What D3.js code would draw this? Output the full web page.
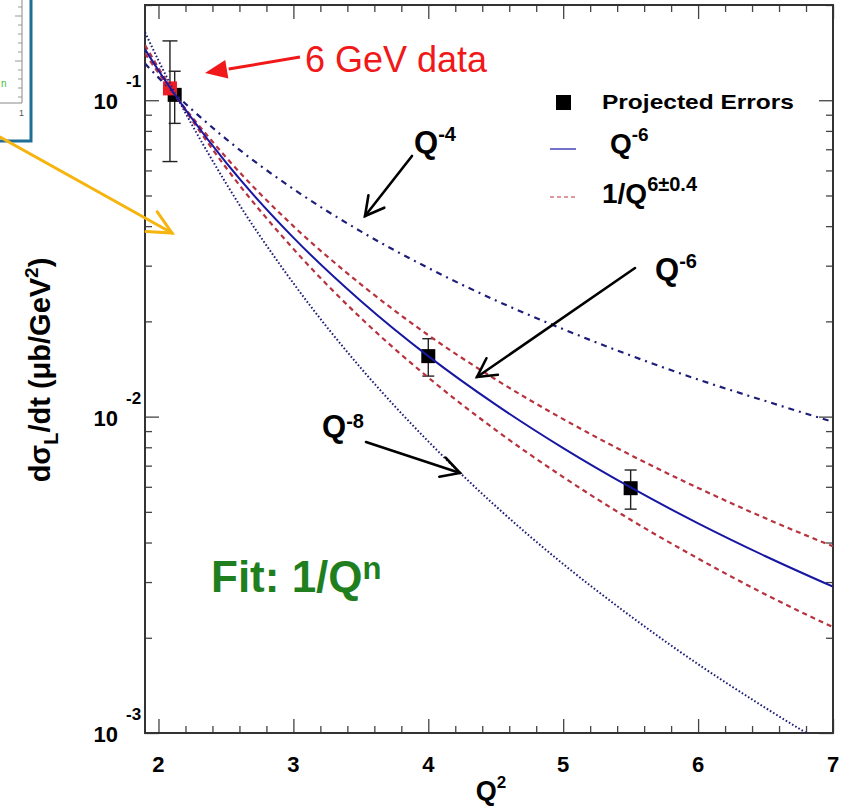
<!DOCTYPE html>
<html>
<head>
<meta charset="utf-8">
<script src="https://cdn.jsdelivr.net/npm/d3@7"></script>
<style>
  html, body { margin: 0; padding: 0; background: #fff; }
  svg { display: block; font-family: "Liberation Sans", Arial, Helvetica, sans-serif; }
</style>
</head>
<body>
<svg id="chart" width="850" height="808"></svg>
<script>
// Q² grid (GeV²) on which the scaling curves are tabulated
const q2Grid = [1.9, 2.0, 2.5, 3.0, 3.5, 4.0, 4.5, 5.0, 5.5, 6.0, 6.5, 7.0];
// dσL/dt (μb/GeV²) for the scaling curves
const curveQ4 = [0.1306, 0.1179, 0.0755, 0.0524, 0.0385, 0.0295, 0.0233, 0.0189, 0.0156, 0.0131, 0.0112, 0.00962];
const curveQ6 = [0.1449, 0.1242, 0.0636, 0.0368, 0.0232, 0.01553, 0.01091, 0.00795, 0.00597, 0.00460, 0.00362, 0.00290];
const curveQ8 = [0.1640, 0.1335, 0.0547, 0.0264, 0.01424, 0.00835, 0.00521, 0.00342, 0.00234, 0.00165, 0.00120, 0.00089];
const bandUpper = [0.1405, 0.1220, 0.0661, 0.0400, 0.0262, 0.0181, 0.0131, 0.00982, 0.00756, 0.00595, 0.00477, 0.00389];
const bandLower = [0.1494, 0.1265, 0.0613, 0.0339, 0.0205, 0.01329, 0.00907, 0.00644, 0.00472, 0.00356, 0.00274, 0.00216];

// projected measurements
const projQ2 = [2.12, 4.0, 5.5];
const projVal = [0.104, 0.01553, 0.00594];
const projErr = [0.0195, 0.0021, 0.00084];
// existing 6 GeV point
const dataQ2 = [2.085];
const dataVal = [0.109];
const dataErr = [0.045];

// axis ticks
const xMajor = [2, 3, 4, 5, 6, 7];
const xTickLabels = ["2", "3", "4", "5", "6", "7"];
const yMajor = [0.1, 0.01, 0.001];
const yExpLabels = ["-1", "-2", "-3"];

// ---------------------------------------------------------------
const svg = d3.select("#chart");
const frame = { left: 145, right: 833, top: 5, bottom: 733 };

const x = d3.scaleLinear().domain([1.9, 7.0]).range([frame.left, frame.right]);
const y = d3.scaleLog().domain([0.001, 0.2]).range([frame.bottom, frame.top]);

const BLUE = "#1717a2";
const NAVY = "#1e1e78";
const RED = "#b8323e";

// inset panel peeking in at the top-left corner
const inset = svg.append("g");
inset.append("rect").attr("x", -4).attr("y", -4).attr("width", 35).attr("height", 145)
  .attr("fill", "#fff").attr("stroke", "#1f6e98").attr("stroke-width", 3);
inset.append("line").attr("x1", 22).attr("x2", 22).attr("y1", 0).attr("y2", 103)
  .attr("stroke", "#888").attr("stroke-width", 1);
inset.append("line").attr("x1", 0).attr("x2", 22).attr("y1", 103).attr("y2", 103)
  .attr("stroke", "#888").attr("stroke-width", 1);
inset.selectAll("line.it").data(d3.range(7, 100, 9)).join("line").attr("class", "it")
  .attr("x1", (d, i) => i % 5 === 1 ? 15 : 18).attr("x2", 22).attr("y1", d => d).attr("y2", d => d)
  .attr("stroke", "#999").attr("stroke-width", 1);
inset.append("text").attr("x", 19).attr("y", 116).attr("font-size", 9).attr("fill", "#555").text("1");
inset.append("text").attr("x", 1).attr("y", 87).attr("font-size", 10).attr("fill", "#3cc43c").text("n");

// plot frame and ticks
const axes = svg.append("g");
const xMinor = d3.range(1.9, 7.001, 0.1).map(v => +v.toFixed(1))
  .filter(v => Math.abs(v * 5 - Math.round(v * 5)) < 1e-6 && !xMajor.includes(v));
const yMinor = [];
[0.001, 0.01, 0.1].forEach(dec => d3.range(2, 10).forEach(k => { const v = +(k * dec).toPrecision(3); if (v <= 0.2) yMinor.push(v); }));

function drawAxis(gen, tx, ty, ticks, size) {
  const g = axes.append("g").attr("transform", `translate(${tx},${ty})`)
    .call(gen.tickValues(ticks).tickSizeInner(-size).tickSizeOuter(0).tickFormat(""));
  g.select(".domain").remove();
  g.selectAll(".tick line").attr("stroke", "#444").attr("stroke-width", 1.3);
}
drawAxis(d3.axisBottom(x), 0, frame.bottom, xMajor, 14);
drawAxis(d3.axisBottom(x), 0, frame.bottom, xMinor, 7);
drawAxis(d3.axisTop(x), 0, frame.top, xMajor, 14);
drawAxis(d3.axisTop(x), 0, frame.top, xMinor, 7);
drawAxis(d3.axisLeft(y), frame.left, 0, yMajor, 14);
drawAxis(d3.axisLeft(y), frame.left, 0, yMinor, 7);
drawAxis(d3.axisRight(y), frame.right, 0, yMajor, 14);
drawAxis(d3.axisRight(y), frame.right, 0, yMinor, 7);

axes.append("rect").attr("x", frame.left).attr("y", frame.top)
  .attr("width", frame.right - frame.left).attr("height", frame.bottom - frame.top)
  .attr("fill", "none").attr("stroke", "#333").attr("stroke-width", 2);

// tick labels
axes.selectAll("text.xl").data(xMajor).join("text").attr("class", "xl")
  .attr("x", d => x(d)).attr("y", 772).attr("text-anchor", "middle")
  .attr("font-size", 22).attr("font-weight", "bold").text((d, i) => xTickLabels[i]);
yMajor.forEach((v, i) => {
  const ty = y(v);
  axes.append("text").attr("x", 118).attr("y", ty + 9).attr("text-anchor", "end")
    .attr("font-size", 22).attr("font-weight", "bold").text("10");
  axes.append("text").attr("x", 126).attr("y", ty - 13)
    .attr("font-size", 17).attr("font-weight", "bold").text(yExpLabels[i]);
});

// axis titles
const xt = axes.append("text").attr("x", 491).attr("y", 800).attr("text-anchor", "middle")
  .attr("font-weight", "bold").attr("font-size", 27);
xt.append("tspan").text("Q");
xt.append("tspan").attr("dy", -12).attr("font-size", 17).text("2");

const yt = axes.append("text").attr("transform", "translate(50,370) rotate(-90)")
  .attr("text-anchor", "middle").attr("font-weight", "bold").attr("font-size", 29);
yt.append("tspan").text("dσ");
yt.append("tspan").attr("dy", 8).attr("font-size", 20).text("L");
yt.append("tspan").attr("dy", -8).text("/dt (μb/GeV");
yt.append("tspan").attr("dy", -12).attr("font-size", 19).text("2");
yt.append("tspan").attr("dy", 12).text(")");

// clip region for curves
svg.append("clipPath").attr("id", "plotClip").append("rect")
  .attr("x", frame.left).attr("y", frame.top)
  .attr("width", frame.right - frame.left).attr("height", frame.bottom - frame.top);
const plot = svg.append("g").attr("clip-path", "url(#plotClip)");

// error bars and points
function errorBars(q2s, vals, errs, cap) {
  q2s.forEach((q, i) => {
    const cx = x(q), lo = y(vals[i] - errs[i]), hi = y(vals[i] + errs[i]);
    plot.append("line").attr("x1", cx).attr("x2", cx).attr("y1", lo).attr("y2", hi)
      .attr("stroke", "#222").attr("stroke-width", 1.4);
    [lo, hi].forEach(yy => plot.append("line").attr("x1", cx - cap / 2).attr("x2", cx + cap / 2)
      .attr("y1", yy).attr("y2", yy).attr("stroke", "#222").attr("stroke-width", 1.4));
  });
}
errorBars(dataQ2, dataVal, dataErr, 15);
errorBars(projQ2, projVal, projErr, 12);

const SQ = 14;
plot.selectAll("rect.proj").data(projQ2).join("rect").attr("class", "proj")
  .attr("x", d => x(d) - SQ / 2).attr("y", (d, i) => y(projVal[i]) - SQ / 2)
  .attr("width", SQ).attr("height", SQ).attr("fill", "#000");
plot.selectAll("rect.dat").data(dataQ2).join("rect").attr("class", "dat")
  .attr("x", d => x(d) - SQ / 2).attr("y", (d, i) => y(dataVal[i]) - SQ / 2)
  .attr("width", SQ).attr("height", SQ).attr("fill", "#ee1c24");

// scaling curves
const line = d3.line().x(d => x(d[0])).y(d => y(d[1])).curve(d3.curveMonotoneX);
function curve(vals, color, width, dash) {
  plot.append("path").datum(q2Grid.map((q, i) => [q, vals[i]]))
    .attr("d", line).attr("fill", "none").attr("stroke", color)
    .attr("stroke-width", width).attr("stroke-dasharray", dash);
}
curve(curveQ8, NAVY, 2, "1.6,2.1");
curve(curveQ4, NAVY, 2.2, "6,5,2,5");
curve(bandUpper, RED, 2.2, "5,4");
curve(bandLower, RED, 2.2, "5,4");
curve(curveQ6, BLUE, 2, null);

// annotations
const ann = svg.append("g");
function arrow(x1, y1, x2, y2, color, width, len, ang, filled) {
  const a = Math.atan2(y1 - y2, x1 - x2);
  const p1 = [x2 + len * Math.cos(a + ang), y2 + len * Math.sin(a + ang)];
  const p2 = [x2 + len * Math.cos(a - ang), y2 + len * Math.sin(a - ang)];
  if (filled) {
    const bx = x2 + len * Math.cos(a), by = y2 + len * Math.sin(a);
    ann.append("line").attr("x1", x1).attr("y1", y1).attr("x2", bx).attr("y2", by)
      .attr("stroke", color).attr("stroke-width", width);
    ann.append("path").attr("d", `M${x2},${y2}L${p1[0]},${p1[1]}L${p2[0]},${p2[1]}Z`).attr("fill", color);
  } else {
    ann.append("line").attr("x1", x1).attr("y1", y1).attr("x2", x2).attr("y2", y2)
      .attr("stroke", color).attr("stroke-width", width).attr("stroke-linecap", "round");
    ann.append("path").attr("d", `M${p1[0]},${p1[1]}L${x2},${y2}L${p2[0]},${p2[1]}`)
      .attr("fill", "none").attr("stroke", color).attr("stroke-width", width)
      .attr("stroke-linecap", "round").attr("stroke-linejoin", "miter");
  }
}
function supLabel(px, py, base, sup, size, supSize, raise, color) {
  const t = ann.append("text").attr("x", px).attr("y", py).attr("font-weight", "bold")
    .attr("font-size", size).attr("fill", color || "#000");
  t.append("tspan").text(base);
  t.append("tspan").attr("dy", -raise).attr("font-size", supSize).text(sup);
  return t;
}

// orange pointer from the inset
arrow(0, 137, 172, 233, "#f6b40e", 3, 26, 0.45, false);

// 6 GeV data
ann.append("text").attr("x", 305).attr("y", 72).attr("font-size", 36).attr("fill", "#f01818").text("6 GeV data");
arrow(300, 57, 205, 73, "#f01818", 3, 24, 0.4, true);

// curve labels
supLabel(414, 153, "Q", "-4", 31, 20, 12);
arrow(412, 156, 365, 216, "#000", 2.6, 21, 0.5, false);
supLabel(655, 280, "Q", "-6", 31, 20, 12);
arrow(635, 268, 477, 377, "#000", 2.6, 21, 0.5, false);
supLabel(322, 437, "Q", "-8", 31, 20, 9);
arrow(366, 442, 460, 473, "#000", 2.6, 21, 0.5, false);

// fit label
supLabel(211, 592, "Fit: 1/Q", "n", 44, 31, 13, "#1f7f1f");

// legend
const leg = svg.append("g");
leg.append("rect").attr("x", 556).attr("y", 95).attr("width", 15).attr("height", 15).attr("fill", "#000");
leg.append("text").attr("x", 602).attr("y", 109).attr("font-size", 21).attr("font-weight", "bold")
  .attr("textLength", 192).attr("lengthAdjust", "spacingAndGlyphs").text("Projected Errors");
leg.append("line").attr("x1", 550).attr("x2", 576).attr("y1", 149).attr("y2", 149).attr("stroke", BLUE).attr("stroke-width", 1.2);
const l2 = leg.append("text").attr("x", 610).attr("y", 153).attr("font-size", 28).attr("font-weight", "bold");
l2.append("tspan").text("Q");
l2.append("tspan").attr("dy", -12).attr("font-size", 19).text("-6");
leg.append("line").attr("x1", 550).attr("x2", 576).attr("y1", 197).attr("y2", 197).attr("stroke", RED)
  .attr("stroke-width", 1.2).attr("stroke-dasharray", "4,3");
const l3 = leg.append("text").attr("x", 602).attr("y", 203).attr("font-size", 28).attr("font-weight", "bold");
l3.append("tspan").text("1/Q");
l3.append("tspan").attr("dy", -12).attr("font-size", 20).text("6±0.4");
</script>
</body>
</html>
